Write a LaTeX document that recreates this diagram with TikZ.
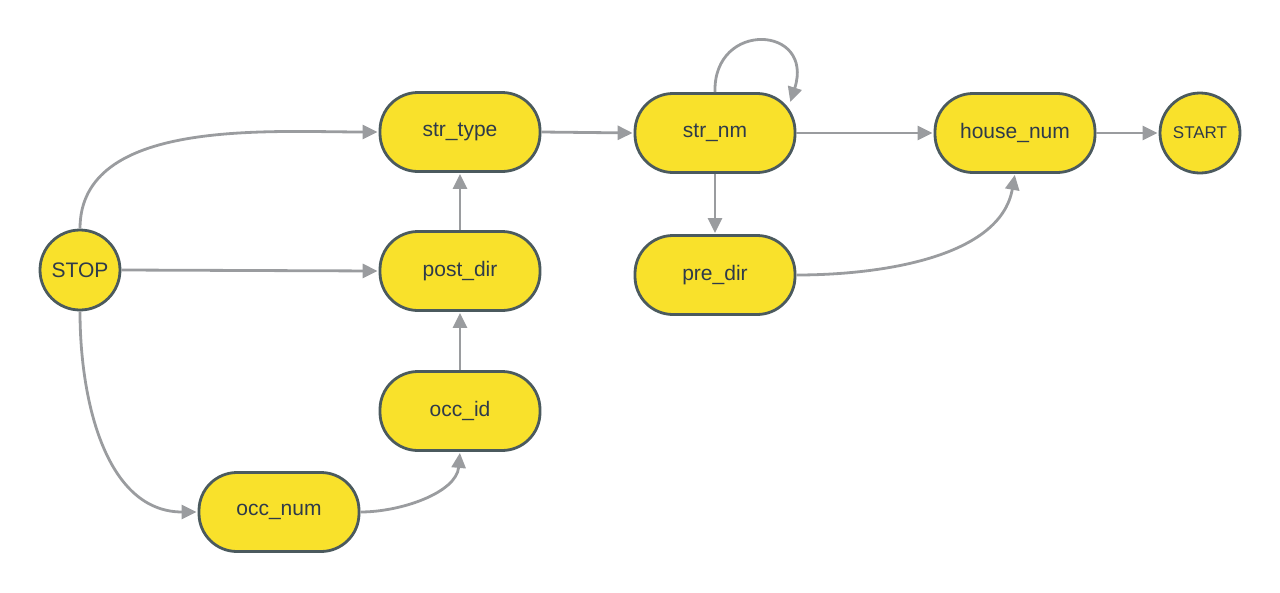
\documentclass[tikz,border=0pt]{standalone}
\usepackage{fontspec}
\setmainfont{Liberation Sans}
\usetikzlibrary{arrows.meta}
\definecolor{statefill}{HTML}{F9E12B}
\definecolor{stateline}{HTML}{4B5A5E}
\definecolor{statetext}{HTML}{2E3A4A}
\definecolor{edgegray}{HTML}{9A9C9F}
\begin{document}
\begin{tikzpicture}[x=1pt,y=-1pt,
  statebox/.style={draw=stateline, fill=statefill, line width=2.8pt,
    rounded corners=38pt, minimum width=160pt, minimum height=79pt,
    inner sep=0pt, text=statetext, font=\fontsize{21}{25}\selectfont},
  endstate/.style={draw=stateline, fill=statefill, line width=2.8pt, circle,
    minimum size=80pt, inner sep=0pt, text=statetext},
  trans/.style={draw=edgegray, line width=2.8pt,
    -{Triangle[length=15pt,width=14pt]}, shorten >=1pt}
]
\useasboundingbox (0,0) rectangle (1280,592);

% states
\node[statebox] (strtype) at (460,132) {str\_type};
\node[statebox] (strnm) at (715,133) {str\_nm};
\node[statebox] (housenum) at (1015,133) {house\_num};
\node[statebox] (postdir) at (460,271) {post\_dir};
\node[statebox] (predir) at (715,275) {pre\_dir};
\node[statebox] (occid) at (460,411) {occ\_id};
\node[statebox] (occnum) at (279,512) {occ\_num};
\node[endstate, font=\fontsize{21}{25}\selectfont] (stop) at (80,270) {STOP};
\node[endstate, font=\fontsize{17}{20}\selectfont] (start) at (1200,133) {START};

% end point of the loop on str_nm
\coordinate (loopend) at (790,103);

% transitions
\draw[trans] (stop.north) to[out=90,in=180,looseness=0.9] (strtype.west);
\draw[trans] (stop.east) -- (postdir.west);
\draw[trans] (stop.south) to[out=-90,in=180,looseness=1.0] (occnum.west);
\draw[trans] (occnum.east) to[out=0,in=-95,looseness=0.9] (occid.south);
\draw[trans] (occid.north) -- (postdir.south);
\draw[trans] (postdir.north) -- (strtype.south);
\draw[trans] (strtype.east) -- (strnm.west);
\draw[trans] (strnm.north) .. controls (713,20) and (815,25) .. (loopend);
\draw[trans] (strnm.south) -- (predir.north);
\draw[trans] (strnm.east) -- (housenum.west);
\draw[trans] (predir.east) to[out=0,in=-100,looseness=0.9] (housenum.south);
\draw[trans] (housenum.east) -- (start.west);
\end{tikzpicture}
\end{document}
